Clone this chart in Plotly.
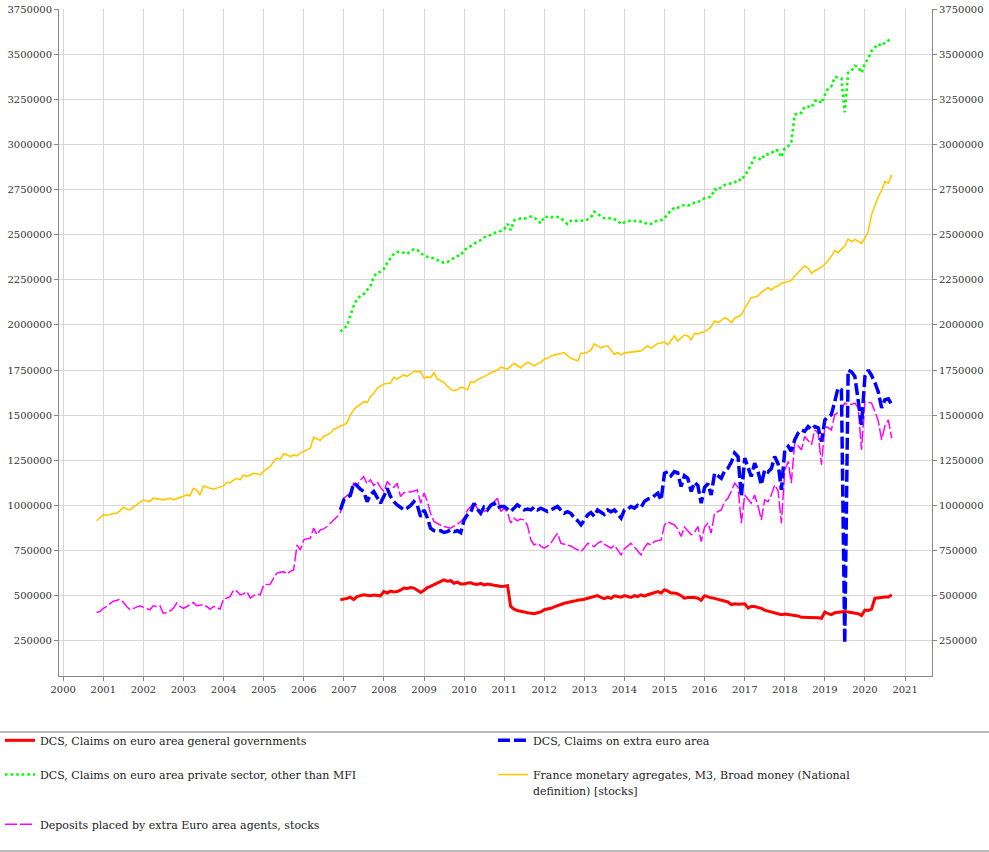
import pandas as pd
import plotly.graph_objects as go

UNIT = 1000  # values below are in thousands

# ---- monthly observations (month-start dates) ----
gov_start = "2006-12-01"
gov_k = [477,
    480, 485, 492, 478, 495, 498, 505, 502, 500, 503, 499, 499,
    523, 515, 525, 520, 523, 530, 542, 540, 545, 542, 530, 518,
    530, 545, 551, 560, 570, 575, 588, 580, 583, 569, 575, 565,
    565, 570, 572, 565, 562, 568, 560, 565, 560, 558, 555, 551,
    552, 555, 440, 425, 418, 412, 410, 405, 402, 400, 405, 410,
    422, 425, 430, 438, 445, 455, 458, 462, 468, 470, 475, 477,
    480, 486, 490, 495, 500, 490, 483, 492, 485, 499, 495, 492,
    500, 495, 490, 500, 495, 505, 498, 505, 510, 515, 523, 515,
    533, 525, 515, 515, 510, 500, 486, 490, 492, 490, 486, 475,
    500, 492, 488, 485, 480, 477, 470, 465, 450, 455, 453, 455,
    455, 431, 440, 440, 435, 430, 420, 415, 410, 405, 400, 395,
    398, 395, 392, 390, 388, 380, 380, 378, 378, 378, 378, 375,
    410, 400, 395, 405, 408, 410, 412, 410, 408, 405, 400, 390,
    420, 418, 425, 486, 490, 490, 492, 492, 505]

extra_start = "2006-12-01"
extra_k = [975,
    1031, 1045, 1055, 1123, 1110, 1090, 1077, 1021, 1060, 1077, 1040, 1012,
    1050, 1095, 1050, 1021, 1003, 990, 975, 985, 1000, 1021, 1000, 937,
    975, 930, 874, 860, 855, 860, 850, 855, 865, 855, 860, 849,
    920, 948, 960, 1012, 980, 957, 990, 975, 1000, 1012, 985, 994,
    994, 980, 966, 985, 1003, 990, 975, 980, 975, 990, 975, 985,
    975, 966, 975, 985, 994, 975, 957, 965, 955, 930, 915, 892,
    920, 948, 960, 940, 975, 960, 950, 975, 965, 975, 950, 930,
    975, 980, 994, 985, 1000, 990, 1021, 1035, 1040, 1055, 1068, 1030,
    1178, 1187, 1165, 1187, 1180, 1105, 1165, 1150, 1077, 1128, 1110, 1012,
    1100, 1120, 1058, 1178, 1165, 1150, 1190, 1206, 1240, 1290, 1270, 1049,
    1262, 1200, 1160, 1234, 1190, 1114, 1197, 1185, 1205, 1271, 1230, 1086,
    1308, 1327, 1300, 1363, 1400, 1418, 1410, 1437, 1420, 1437, 1430, 1354,
    1474, 1490, 1502, 1576, 1650, 1640, 237, 1750, 1740, 1715, 1585, 1446,
    1715, 1750, 1720, 1680, 1630, 1540, 1585, 1590, 1557]

priv_start = "2006-12-01"
priv_k = [1963,
    1980, 1996, 2050, 2105, 2142, 2160, 2170, 2190, 2216, 2268, 2290, 2295,
    2310, 2345, 2370, 2393, 2405, 2400, 2400, 2393, 2410, 2419, 2415, 2395,
    2388, 2377, 2372, 2369, 2360, 2350, 2345, 2348, 2360, 2370, 2382, 2385,
    2415, 2425, 2437, 2450, 2461, 2470, 2484, 2490, 2498, 2505, 2517, 2520,
    2530, 2559, 2525, 2578, 2585, 2590, 2588, 2592, 2600, 2595, 2580, 2563,
    2600, 2598, 2595, 2600, 2598, 2590, 2572, 2559, 2577, 2575, 2576, 2577,
    2577, 2585, 2596, 2627, 2615, 2600, 2591, 2590, 2592, 2585, 2577, 2559,
    2570, 2577, 2576, 2577, 2575, 2572, 2568, 2557, 2560, 2572, 2575, 2580,
    2590, 2618, 2630, 2652, 2650, 2655, 2664, 2660, 2670, 2677, 2680, 2690,
    2702, 2706, 2710, 2751, 2745, 2765, 2775, 2780, 2785, 2788, 2807, 2800,
    2831, 2855, 2890, 2927, 2925, 2914, 2944, 2945, 2951, 2970, 2965, 2929,
    2979, 2990, 3013, 3163, 3176, 3175, 3209, 3210, 3204, 3240, 3247, 3228,
    3274, 3311, 3322, 3372, 3372, 3365, 3178, 3397, 3408, 3436, 3430, 3397,
    3449, 3477, 3517, 3540, 3556, 3545, 3565, 3575, 3590]

m3_start = "2000-11-01"
m3_k = [915, 930,
    948, 946, 948, 955, 957, 970, 990, 980, 975, 990, 1003, 1015,
    1031, 1025, 1021, 1040, 1038, 1035, 1031, 1036, 1040, 1031, 1038, 1044,
    1055, 1058, 1053, 1095, 1085, 1058, 1108, 1100, 1095, 1090, 1095, 1100,
    1108, 1128, 1125, 1140, 1150, 1142, 1169, 1160, 1170, 1178, 1175, 1169,
    1190, 1206, 1215, 1243, 1262, 1255, 1286, 1280, 1271, 1280, 1274, 1290,
    1300, 1308, 1317, 1378, 1370, 1360, 1382, 1390, 1400, 1422, 1428, 1441,
    1446, 1460, 1500, 1529, 1548, 1560, 1575, 1570, 1603, 1620, 1650, 1660,
    1673, 1675, 1678, 1710, 1700, 1712, 1723, 1715, 1730, 1742, 1742, 1740,
    1705, 1712, 1708, 1736, 1700, 1690, 1682, 1660, 1644, 1636, 1640, 1655,
    1650, 1640, 1686, 1680, 1695, 1705, 1712, 1723, 1735, 1742, 1750, 1766,
    1760, 1755, 1770, 1788, 1775, 1762, 1780, 1792, 1785, 1773, 1785, 1792,
    1810, 1815, 1828, 1835, 1838, 1842, 1847, 1830, 1815, 1808, 1800, 1843,
    1843, 1850, 1860, 1895, 1885, 1873, 1880, 1884, 1860, 1838, 1847, 1834,
    1845, 1847, 1848, 1850, 1852, 1856, 1870, 1884, 1870, 1885, 1898, 1900,
    1906, 1890, 1915, 1939, 1911, 1930, 1944, 1940, 1917, 1953, 1950, 1958,
    1963, 1975, 1990, 2022, 2013, 2025, 2040, 2030, 2013, 2037, 2045, 2055,
    2092, 2120, 2151, 2155, 2160, 2180, 2195, 2207, 2194, 2210, 2216, 2231,
    2235, 2240, 2245, 2271, 2290, 2304, 2326, 2315, 2286, 2300, 2310, 2320,
    2336, 2360, 2380, 2412, 2400, 2420, 2437, 2476, 2461, 2474, 2465, 2452,
    2480, 2520, 2610, 2660, 2710, 2744, 2794, 2785, 2831]

dep_start = "2000-11-01"
dep_k = [407, 412,
    430, 440, 455, 470, 473, 480, 465, 440, 422, 430, 438, 444,
    435, 430, 422, 444, 440, 444, 403, 405, 415, 430, 459, 440,
    430, 440, 450, 462, 444, 448, 450, 440, 425, 440, 435, 425,
    481, 487, 495, 532, 525, 505, 510, 523, 487, 500, 510, 505,
    560, 562, 563, 597, 625, 630, 633, 620, 635, 643, 781, 754,
    809, 815, 818, 874, 837, 865, 870, 883, 900, 920, 937, 960,
    1040, 1055, 1068, 1123, 1110, 1140, 1160, 1120, 1142, 1110, 1132, 1100,
    1077, 1132, 1110, 1100, 1123, 1049, 1070, 1077, 1075, 1080, 1086, 1012,
    1068, 1020, 957, 911, 900, 890, 883, 880, 874, 885, 895, 911,
    930, 975, 990, 1012, 985, 948, 965, 975, 1000, 1020, 1040, 966,
    985, 960, 902, 930, 915, 925, 920, 890, 809, 781, 790, 775,
    763, 775, 790, 820, 846, 790, 785, 780, 775, 763, 755, 744,
    765, 790, 780, 772, 790, 800, 785, 775, 763, 780, 750, 726,
    760, 775, 790, 770, 750, 726, 765, 790, 780, 800, 805, 809,
    892, 911, 900, 892, 870, 828, 880, 860, 837, 850, 883, 800,
    880, 902, 846, 957, 965, 975, 1021, 1040, 1080, 1123, 1100, 902,
    1058, 1030, 1012, 1058, 1000, 920, 1030, 1020, 1060, 1114, 1080, 902,
    1197, 1243, 1123, 1345, 1330, 1308, 1382, 1360, 1336, 1418, 1400, 1225,
    1437, 1430, 1418, 1502, 1515, 1530, 1567, 1557, 1560, 1567, 1540, 1308,
    1576, 1570, 1567, 1520, 1470, 1363, 1440, 1474, 1372]

names = [
    "DCS, Claims on euro area general governments",
    "DCS, Claims on extra euro area",
    "DCS, Claims on euro area private sector, other than MFI",
    "France monetary agregates, M3, Broad money (National<br>definition) [stocks]",
    "Deposits placed by extra Euro area agents, stocks",
]

year_ticks = list(range(2000, 2022))
y_ticks = list(range(250000, 3750001, 250000))


def dates(start, vals):
    return pd.date_range(start, periods=len(vals), freq="MS")


def scaled(vals):
    return [v * UNIT for v in vals]


def legend_label(text, blank_lines=1):
    # smaller inline text, plus blank lines to space the legend rows
    return f"<span style='font-size:11px'>{text}</span>" + "<br>&nbsp;" * blank_lines


FONT = "DejaVu Serif"
fig = go.Figure()

# drawing order: red, pink, yellow, green, blue on top; legend order set by legendrank
fig.add_trace(go.Scatter(x=dates(gov_start, gov_k), y=scaled(gov_k), name=legend_label(names[0]),
                         mode="lines", line=dict(color="#FF0000", width=3),
                         legend="legend", legendrank=1))
fig.add_trace(go.Scatter(x=dates(dep_start, dep_k), y=scaled(dep_k), name=legend_label(names[4]),
                         mode="lines", line=dict(color="#FF00FF", width=1.5, dash="12px,3px"),
                         legend="legend", legendrank=3))
fig.add_trace(go.Scatter(x=dates(m3_start, m3_k), y=scaled(m3_k), name=legend_label(names[3]),
                         mode="lines", line=dict(color="#FFC800", width=1.6),
                         legend="legend2", legendrank=2))
fig.add_trace(go.Scatter(x=dates(priv_start, priv_k), y=scaled(priv_k),
                         name=legend_label(names[2], blank_lines=2),
                         mode="lines", line=dict(color="#00FF00", width=2.6, dash="2.6px,3px"),
                         legend="legend", legendrank=2))
fig.add_trace(go.Scatter(x=dates(extra_start, extra_k), y=scaled(extra_k), name=legend_label(names[1]),
                         mode="lines", line=dict(color="#0000FF", width=3.5, dash="12px,4px"),
                         legend="legend2", legendrank=1))

# invisible companion trace so the right-hand axis is drawn with the same scale
fig.add_trace(go.Scatter(x=dates(gov_start, gov_k), y=scaled(gov_k), yaxis="y2",
                         mode="lines", line=dict(width=0), opacity=0,
                         showlegend=False, hoverinfo="skip"))

yr = [55000, 3750000]
axis_common = dict(
    range=yr, tickmode="array", tickvals=y_ticks, tickformat="d",
    ticks="outside", ticklen=4, tickcolor="#888888",
    showline=True, linecolor="#888888", linewidth=1,
    tickfont=dict(family=FONT, size=10, color="#333333"),
    zeroline=False, automargin=False,
)

legend_common = dict(
    orientation="v",
    xanchor="left",
    y=-0.075, yanchor="top",
    font=dict(family=FONT, size=12, color="#222222"),
    bgcolor="rgba(0,0,0,0)",
    valign="top",
    tracegroupgap=0,
)

fig.update_layout(
    width=989, height=852,
    margin=dict(l=59, r=57, t=9, b=176, autoexpand=False),
    paper_bgcolor="white", plot_bgcolor="white",
    xaxis=dict(
        type="date",
        range=["1999-11-24", "2021-09-03"],
        tickmode="array",
        tickvals=[f"{y}-01-01" for y in year_ticks],
        ticktext=[str(y) for y in year_ticks],
        ticks="outside", ticklen=4, tickcolor="#888888",
        showline=True, linecolor="#888888", linewidth=1,
        showgrid=True, gridcolor="#d6d6d6", gridwidth=1,
        tickfont=dict(family=FONT, size=10, color="#333333"),
        zeroline=False, automargin=False,
    ),
    yaxis=dict(showgrid=True, gridcolor="#d6d6d6", gridwidth=1, side="left", **axis_common),
    yaxis2=dict(overlaying="y", side="right", showgrid=False, **axis_common),
    showlegend=True,
    legend=dict(x=-0.0676, **legend_common),
    legend2=dict(x=0.4971, **legend_common),
    shapes=[
        dict(type="line", xref="paper", yref="paper", x0=-0.07, x1=1.07,
             y0=-0.0840, y1=-0.0840, line=dict(color="#a0a0a0", width=1.5)),
        dict(type="line", xref="paper", yref="paper", x0=-0.07, x1=1.07,
             y0=-0.2625, y1=-0.2625, line=dict(color="#a0a0a0", width=1.5)),
    ],
)

fig.write_html(
    "out.html",
    config={"displayModeBar": False},
    post_script="document.body.style.margin='0';document.body.style.overflow='hidden';",
)
